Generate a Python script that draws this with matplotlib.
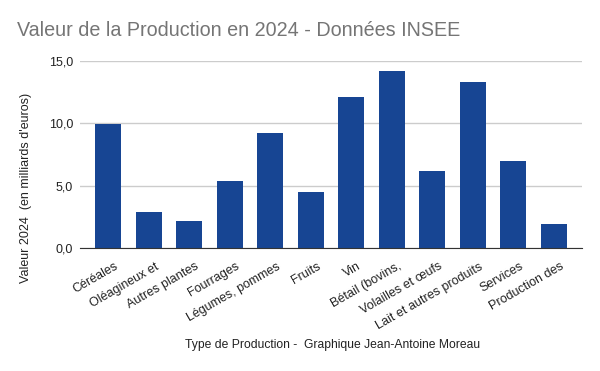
import matplotlib

matplotlib.use("Agg")
import matplotlib.pyplot as plt
from matplotlib.transforms import ScaledTranslation

plt.rcParams["font.family"] = ["Liberation Sans", "DejaVu Sans"]

categories = [
    "Céréales", "Oléagineux et", "Autres plantes", "Fourrages", "Légumes, pommes",
    "Fruits", "Vin", "Bétail (bovins,", "Volailles et œufs", "Lait et autres produits",
    "Services", "Production des",
]
values = [9.95, 2.89, 2.17, 5.37, 9.22, 4.49, 12.11, 14.19, 6.17, 13.31, 6.98, 1.92]
yticks = [0, 5, 10, 15]
ytick_labels = ["0,0", "5,0", "10,0", "15,0"]

fig = plt.figure(figsize=(6.0, 3.71), dpi=100)
ax = fig.add_axes([80 / 600, 1 - 248 / 371, 502 / 600, 187 / 371])

x = range(len(categories))
ax.bar(x, values, width=0.64, color="#174593", zorder=3)
ax.set_xlim(-0.69, len(categories) - 1 + 0.69)
ax.set_ylim(0, 15)
ax.set_yticks(yticks)
ax.set_yticklabels(ytick_labels, fontsize=9, color="#222222")
ax.set_xticks(list(x))
ax.set_xticklabels(categories, rotation=30, ha="right", rotation_mode="anchor",
                   fontsize=9, color="#222222")
ax.tick_params(length=0)
ax.tick_params(axis="y", pad=5)
ax.tick_params(axis="x", pad=9)
shift = ScaledTranslation(6 / 100, 0, fig.dpi_scale_trans)
for lbl in ax.get_xticklabels():
    lbl.set_transform(lbl.get_transform() + shift)
ax.grid(axis="y", color="#cccccc", linewidth=1, zorder=0)
for s in ["top", "right", "left"]:
    ax.spines[s].set_visible(False)
ax.spines["bottom"].set_color("#333333")
ax.spines["bottom"].set_zorder(4)

fig.text(26 / 600, 1 - 188 / 371, "Valeur 2024  (en milliards d'euros)", rotation=90,
         fontsize=9, color="#222222", ha="center", va="center")
fig.text(333 / 600, 1 - 345 / 371, "Type de Production -  Graphique Jean-Antoine Moreau",
         fontsize=8.7, color="#222222", ha="center", va="center")
fig.text(17 / 600, 1 - 31 / 371, "Valeur de la Production en 2024 - Données INSEE",
         fontsize=14.2, color="#757575", ha="left", va="center")

fig.savefig("out.png", dpi=100)
